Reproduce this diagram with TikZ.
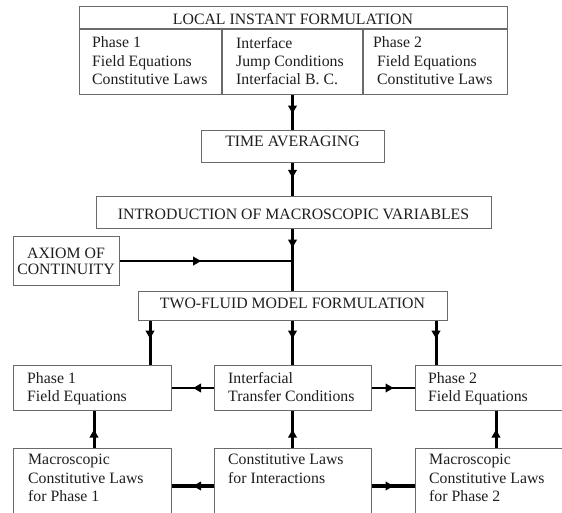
\documentclass[tikz,border=0pt]{standalone}
\usepackage{fontspec}
\setmainfont{Liberation Serif}
\usetikzlibrary{arrows.meta,decorations.markings}
\definecolor{boxgray}{HTML}{6A6A6A}
\definecolor{txtgray}{HTML}{1E1E1E}
\begin{document}
\begin{tikzpicture}[x=1pt,y=1pt,
  box/.style={draw=boxgray,line width=1.1pt,inner sep=0pt,anchor=north west},
  txt/.style={text=txtgray,inner sep=0pt,font=\fontsize{15.8}{18.3}\selectfont,align=left,anchor=north west},
  txtb/.style={text=txtgray,inner sep=0pt,font=\fontsize{15.8}{18.5}\selectfont,align=left,anchor=north west},
  conn/.style={draw=black,line width=#1},
  midarrow/.style={postaction={decorate,decoration={markings,mark=at position #1 with {\arrow{Triangle[length=8pt,width=8.5pt]}}}}},
  midarrow/.default=0.5]
\useasboundingbox (0,0) rectangle (562,-513);
\begin{scope}
\clip (0,0) rectangle (562,-513);
\fill[white] (0,0) rectangle (562,-513);
% helper coordinates
\coordinate (cx) at (292.5,0);
\coordinate (xa) at (150,0);
\coordinate (xb) at (436,0);
\coordinate (xc) at (94,0);
\coordinate (xd) at (496,0);
\coordinate (ya) at (0,-388);
\coordinate (yb) at (0,-486);
\coordinate (yt) at (0,-29);
% local instant formulation
\node[box,minimum width=428pt,minimum height=88pt] (lif) at (79,-6) {};
\draw[boxgray,line width=1.1pt] (lif.west |- yt) -- (lif.east |- yt);
\coordinate (d1) at (222,-29);
\coordinate (d2) at (363,-29);
\draw[boxgray,line width=1.1pt] (d1) -- (d1 |- lif.south);
\draw[boxgray,line width=1.1pt] (d2) -- (d2 |- lif.south);
\node[txt,anchor=base] (lift) at (293,-25) {LOCAL INSTANT FORMULATION};
\node[txt] (c1) at (92,-36.7) {Phase 1\\Field Equations\\Constitutive Laws};
\node[txt] (c2) at (236,-36.7) {Interface\\Jump Conditions\\Interfacial B. C.};
\node[txt] (c3) at (373,-36.7) {Phase 2\\\hspace*{4pt}Field Equations\\\hspace*{4pt}Constitutive Laws};
% time averaging
\node[box,minimum width=183pt,minimum height=32pt] (ta) at (201,-130) {};
\node[txt,anchor=base] (tat) at (292.5,-147) {TIME AVERAGING};
% macroscopic variables
\node[box,minimum width=395pt,minimum height=32pt] (imv) at (96,-196) {};
\node[txt,anchor=base] (imvt) at (293.5,-219) {INTRODUCTION OF MACROSCOPIC VARIABLES};
% axiom
\node[box,minimum width=106pt,minimum height=49pt] (ax) at (13,-236) {};
\node[txt,anchor=north,align=center,font=\fontsize{15.8}{16}\selectfont] (axt) at (66,-247.5) {AXIOM OF\\CONTINUITY};
% two-fluid
\node[box,minimum width=309pt,minimum height=29pt] (tf) at (138,-291) {};
\node[txt,anchor=base] (tft) at (292.5,-308) {TWO-FLUID MODEL FORMULATION};
% middle row
\node[box,minimum width=158pt,minimum height=45pt] (p1) at (13,-365) {};
\node[txt] (p1t) at (27,-372.2) {Phase 1\\Field Equations};
\node[box,minimum width=157pt,minimum height=45pt] (itc) at (214,-365) {};
\node[txt] (itct) at (228,-372.2) {Interfacial\\Transfer Conditions};
\node[box,minimum width=170pt,minimum height=45pt] (p2) at (415,-365) {};
\node[txt] (p2t) at (428,-372.2) {Phase 2\\Field Equations};
% bottom row
\node[box,minimum width=158pt,minimum height=90pt] (m1) at (13,-448) {};
\node[txtb] (m1t) at (28,-454.2) {Macroscopic\\Constitutive Laws\\for Phase 1};
\node[box,minimum width=157pt,minimum height=90pt] (cli) at (214,-448) {};
\node[txtb] (clit) at (228,-454.2) {Constitutive Laws\\for Interactions};
\node[box,minimum width=170pt,minimum height=90pt] (m2) at (415,-448) {};
\node[txtb] (m2t) at (429,-454.2) {Macroscopic\\Constitutive Laws\\for Phase 2};
% connectors
\draw[conn=3pt,midarrow=0.53] (lif.south -| cx) -- (ta.north -| cx);
\draw[conn=3pt,midarrow=0.45] (ta.south -| cx) -- (imv.north -| cx);
\draw[conn=3pt,midarrow=0.3] (imv.south -| cx) -- (tf.north -| cx);
\draw[conn=2.5pt,midarrow=0.47] (ax.east) -- (ax.east -| cx);
\draw[conn=3pt,midarrow=0.4] (tf.south -| xa) -- (p1.north -| xa);
\draw[conn=3pt,midarrow=0.4] (tf.south -| cx) -- (itc.north -| cx);
\draw[conn=3pt,midarrow=0.4] (tf.south -| xb) -- (p2.north -| xb);
\draw[conn=2pt,midarrow] (itc.west |- ya) -- (p1.east |- ya);
\draw[conn=2pt,midarrow] (itc.east |- ya) -- (p2.west |- ya);
\draw[conn=3pt,midarrow] (m1.north -| xc) -- (p1.south -| xc);
\draw[conn=3pt,midarrow] (cli.north -| cx) -- (itc.south -| cx);
\draw[conn=3pt,midarrow] (m2.north -| xd) -- (p2.south -| xd);
\draw[conn=4pt,midarrow] (cli.west |- yb) -- (m1.east |- yb);
\draw[conn=4pt,midarrow] (cli.east |- yb) -- (m2.west |- yb);
\end{scope}
\end{tikzpicture}
\end{document}
